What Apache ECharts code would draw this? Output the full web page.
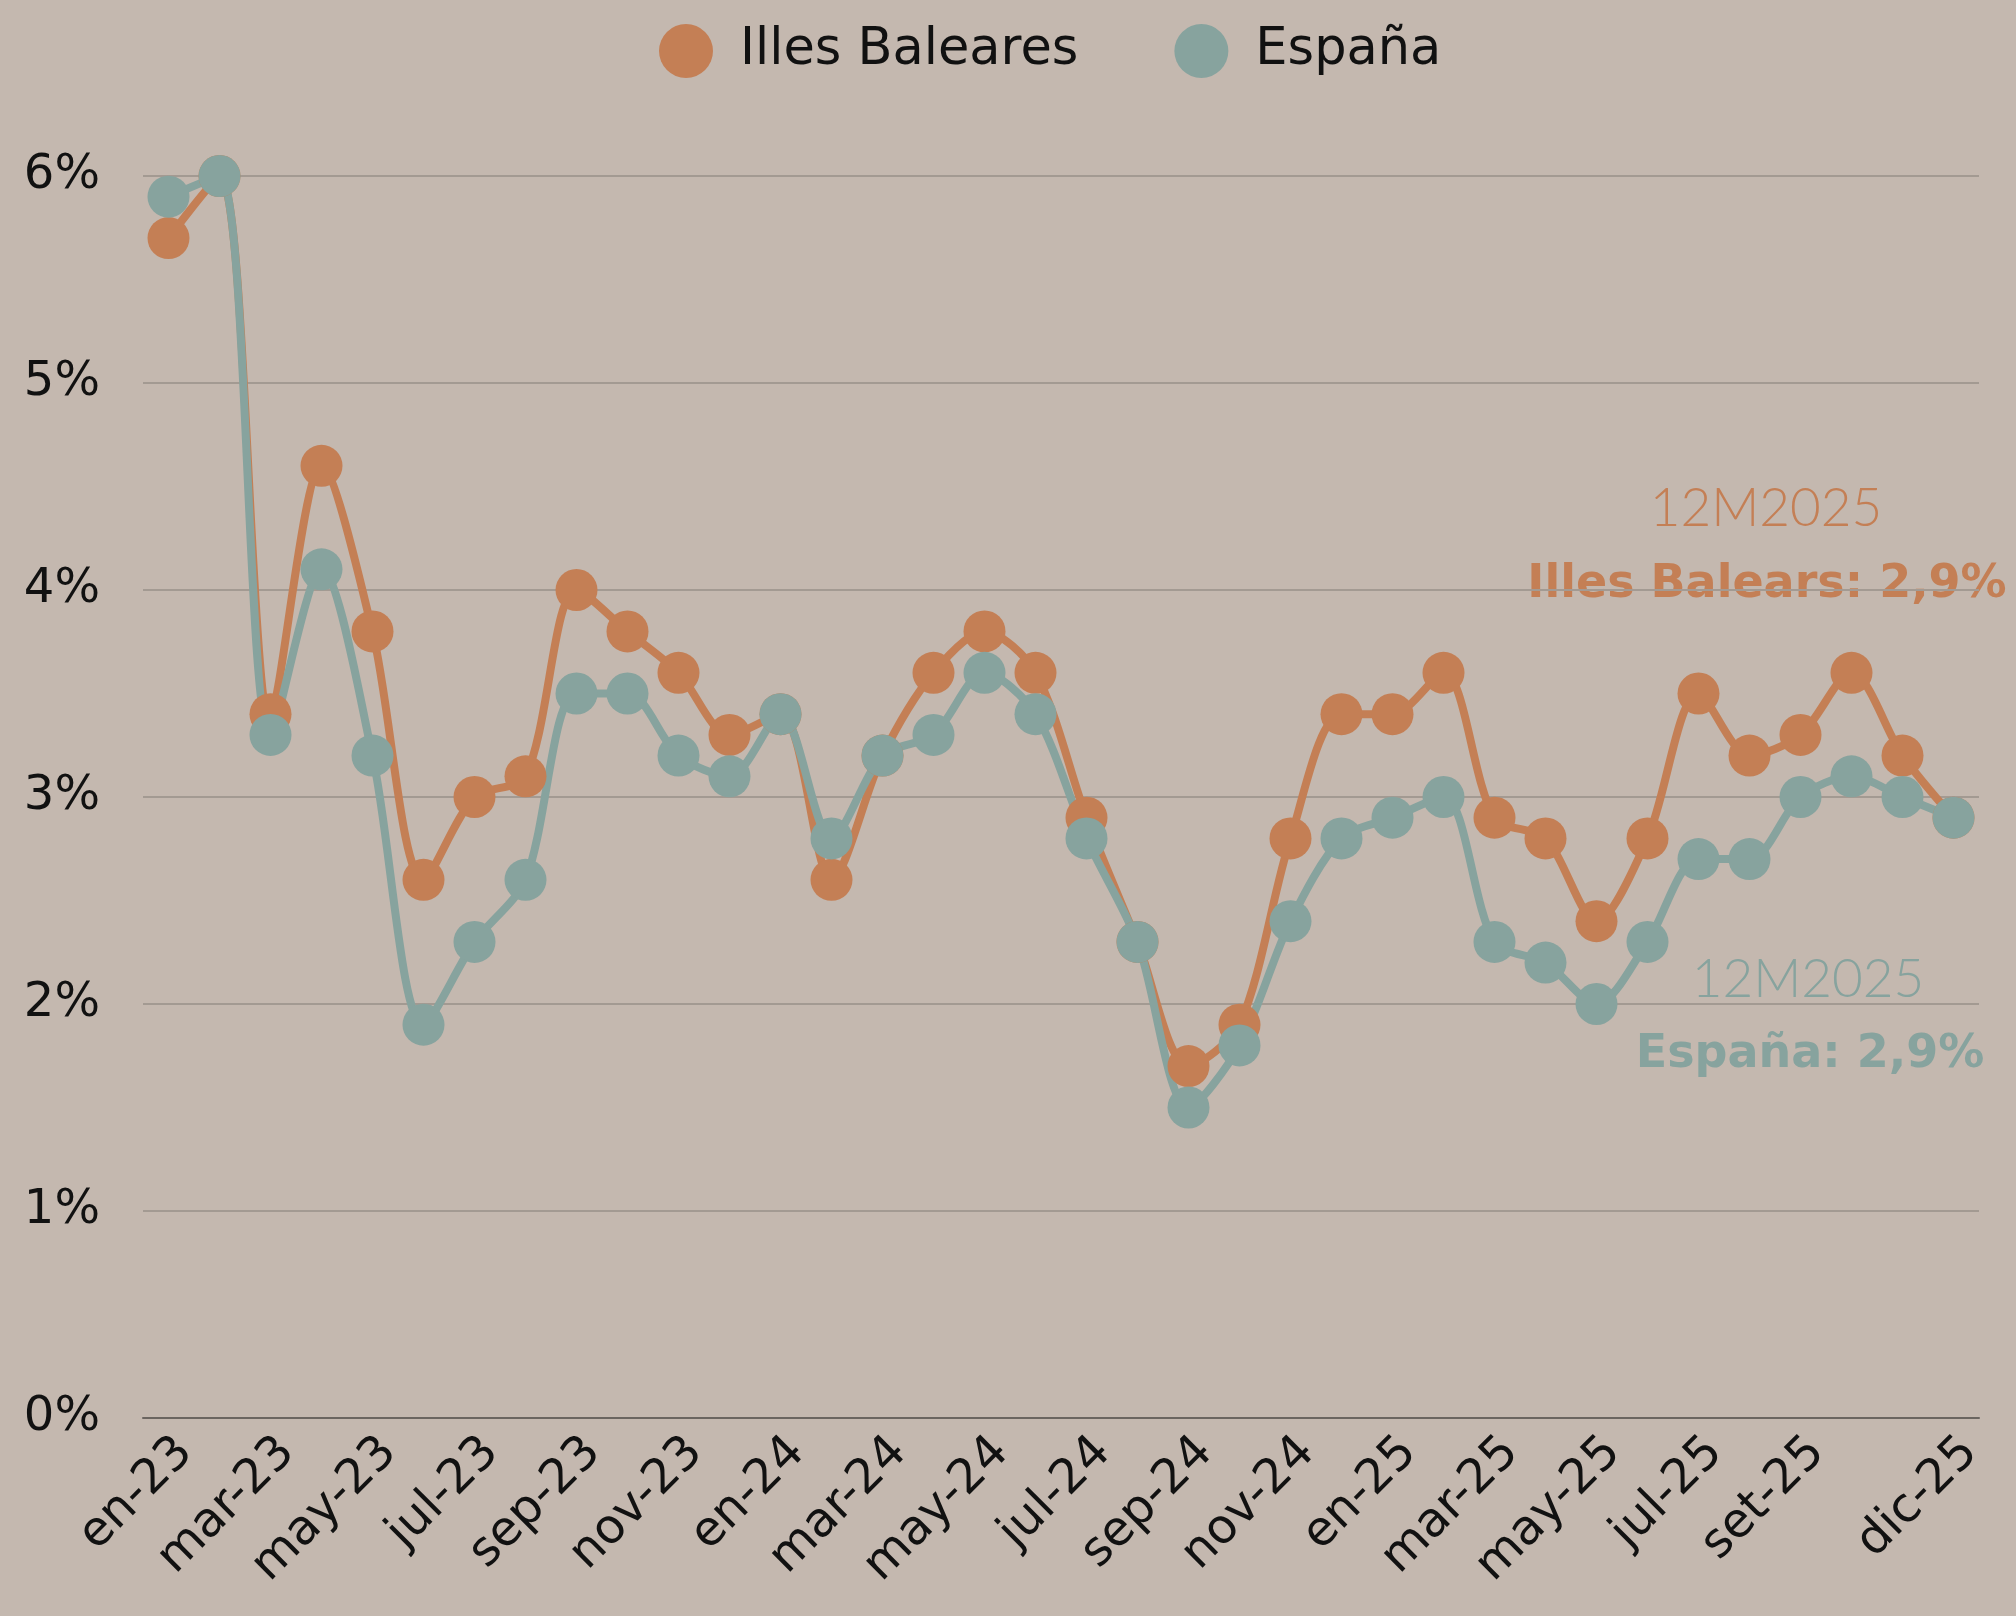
<!DOCTYPE html>
<html>
<head>
<meta charset="utf-8">
<script src="https://cdn.jsdelivr.net/npm/echarts@6/dist/echarts.min.js"></script>
<style>
html,body{margin:0;padding:0;background:#C4B8AF;}
#c{width:2016px;height:1616px;}
</style>
</head>
<body>
<div id="c"></div>
<script>
const categories = ['en-23','feb-23','mar-23','abr-23','may-23','jun-23','jul-23','ago-23','sep-23','oct-23','nov-23','dic-23',
  'en-24','feb-24','mar-24','abr-24','may-24','jun-24','jul-24','ago-24','sep-24','oct-24','nov-24','dic-24',
  'en-25','feb-25','mar-25','abr-25','may-25','jun-25','jul-25','ago-25','set-25','oct-25','nov-25','dic-25'];
const baleares = [5.7,6.0,3.4,4.6,3.8,2.6,3.0,3.1,4.0,3.8,3.6,3.3,
  3.4,2.6,3.2,3.6,3.8,3.6,2.9,2.3,1.7,1.9,2.8,3.4,
  3.4,3.6,2.9,2.8,2.4,2.8,3.5,3.2,3.3,3.6,3.2,2.9];
const espana = [5.9,6.0,3.3,4.1,3.2,1.9,2.3,2.6,3.5,3.5,3.2,3.1,
  3.4,2.8,3.2,3.3,3.6,3.4,2.8,2.3,1.5,1.8,2.4,2.8,
  2.9,3.0,2.3,2.2,2.0,2.3,2.7,2.7,3.0,3.1,3.0,2.9];
const shownLabelIdx = [0,2,4,6,8,10,12,14,16,18,20,22,24,26,28,30,32,35];
const annoTitle = '12M2025';
const annoBaleares = 'Illes Balears: 2,9%';
const annoEspana = 'España: 2,9%';

const ORANGE = '#C47F55', TEAL = '#87A39E';
const FONT = '"DejaVu Sans", sans-serif';
const LIGHT = 'Lato, sans-serif';

const chart = echarts.init(document.getElementById('c'));
chart.setOption({
  backgroundColor: '#C4B8AF',
  animation: false,
  textStyle: {fontFamily: FONT},
  legend: {
    top: 19, left: 654,
    itemWidth: 54, itemHeight: 54, itemGap: 96,
    icon: 'circle',
    textStyle: {fontSize: 51, color: '#111', fontFamily: FONT, padding: [0,0,0,22]},
    data: ['Illes Baleares','España']
  },
  grid: {left: 143, right: 37, top: 176, bottom: 198, containLabel: false},
  xAxis: {
    type: 'category',
    data: categories,
    boundaryGap: true,
    axisLine: {lineStyle: {color: '#6B6560', width: 2}},
    axisTick: {show: false},
    axisLabel: {
      rotate: 45, fontSize: 48, color: '#111', margin: 10, fontFamily: FONT,
      verticalAlign: 'top',
      interval: (i) => shownLabelIdx.indexOf(i) >= 0
    }
  },
  yAxis: {
    type: 'value', min: 0, max: 6, interval: 1,
    axisLine: {show: false}, axisTick: {show: false},
    splitLine: {lineStyle: {color: '#A39A92', width: 2}},
    axisLabel: {formatter: '{value}%', fontSize: 48, color: '#111', margin: 43, fontFamily: FONT}
  },
  series: [
    {name: 'Illes Baleares', type: 'line', data: baleares, smooth: 0.3, showAllSymbol: true,
     symbol: 'circle', symbolSize: 42, itemStyle: {color: ORANGE},
     lineStyle: {color: ORANGE, width: 8}},
    {name: 'España', type: 'line', data: espana, smooth: 0.3, showAllSymbol: true,
     symbol: 'circle', symbolSize: 42, itemStyle: {color: TEAL},
     lineStyle: {color: TEAL, width: 8}}
  ],
  graphic: [
    {type: 'text', x: 1766, y: 509, style: {text: annoTitle, fill: ORANGE, font: '300 53px ' + LIGHT, textAlign: 'center', textVerticalAlign: 'middle'}},
    {type: 'text', x: 1767, y: 585, style: {text: annoBaleares, fill: ORANGE, font: 'bold 46px ' + FONT, textAlign: 'center', textVerticalAlign: 'middle'}},
    {type: 'text', x: 1808, y: 980, style: {text: annoTitle, fill: TEAL, font: '300 53px ' + LIGHT, textAlign: 'center', textVerticalAlign: 'middle'}},
    {type: 'text', x: 1810, y: 1055, style: {text: annoEspana, fill: TEAL, font: 'bold 46px ' + FONT, textAlign: 'center', textVerticalAlign: 'middle'}}
  ]
});
</script>
</body>
</html>
